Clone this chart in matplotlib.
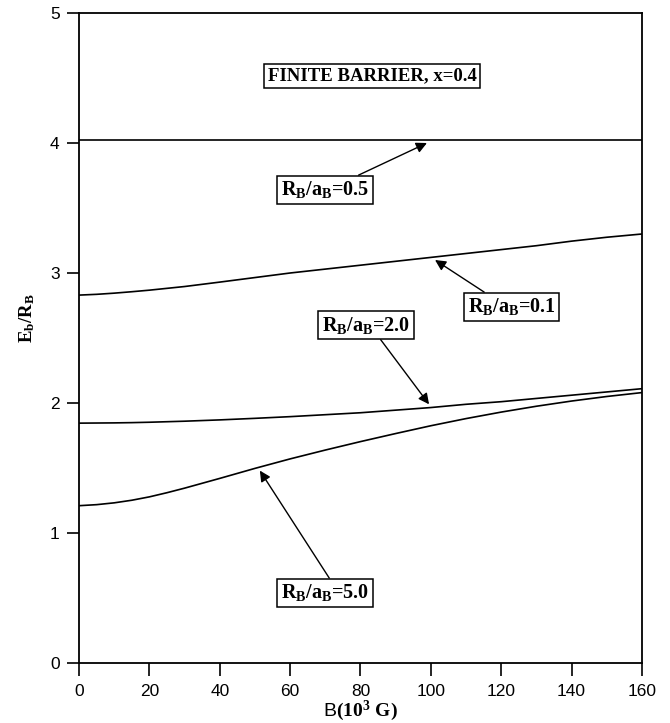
import matplotlib
matplotlib.use("Agg")
import matplotlib.pyplot as plt

# magnetic field B (10^3 G)
field = [0, 5, 10, 15, 20, 25, 30, 40, 50, 60, 70, 80, 90, 100, 110, 120, 130, 140, 150, 160]

# binding energy E_b / R_B for each R_B/a_B
eb_05 = [4.02] * len(field)
eb_01 = [2.83, 2.836, 2.845, 2.856, 2.868, 2.882, 2.896, 2.93, 2.965, 3.0, 3.03, 3.06,
         3.09, 3.12, 3.15, 3.18, 3.21, 3.245, 3.275, 3.30]
eb_20 = [1.845, 1.846, 1.847, 1.849, 1.852, 1.856, 1.86, 1.87, 1.882, 1.895, 1.91, 1.925,
         1.945, 1.965, 1.99, 2.01, 2.035, 2.06, 2.085, 2.11]
eb_50 = [1.21, 1.218, 1.232, 1.252, 1.278, 1.31, 1.345, 1.42, 1.497, 1.57, 1.638, 1.703,
         1.765, 1.825, 1.88, 1.93, 1.975, 2.015, 2.05, 2.08]

curves = [eb_05, eb_01, eb_20, eb_50]

labels = ["0.5", "0.1", "2.0", "5.0"]
x_ticks = [0, 20, 40, 60, 80, 100, 120, 140, 160]
y_ticks = [0, 1, 2, 3, 4, 5]

# label box centres, arrow heads and where the arrow leaves the box
label_xy = [(69.9, 3.64), (123.0, 2.74), (81.6, 2.60), (69.9, 0.54)]
head_xy = [(98.9, 4.0), (101.2, 3.10), (99.5, 1.99), (51.4, 1.48)]
relpos = [(0.78, 1.0), (0.26, 1.0), (0.63, 0.0), (0.58, 1.0)]

plt.rcParams['mathtext.fontset'] = 'custom'
plt.rcParams['mathtext.rm'] = 'Liberation Serif:bold'
plt.rcParams['mathtext.it'] = 'Liberation Serif:bold'
plt.rcParams['mathtext.bf'] = 'Liberation Serif:bold'
plt.rcParams['font.family'] = ['Liberation Sans', 'DejaVu Sans']

fig = plt.figure(figsize=(6.7, 7.23), dpi=100)
ax = fig.add_axes([0.118, 0.083, 0.840, 0.899])

for ys in curves:
    ax.plot(field, ys, color='black', lw=1.2)

ax.set_xlim(0, 160)
ax.set_ylim(0, 5)
ax.set_xticks(x_ticks)
ax.set_yticks(y_ticks)
ax.tick_params(direction='out', length=9, width=1.2, labelsize=12.5, colors='black')
ax.tick_params(axis='x', pad=6)
ax.tick_params(axis='y', pad=5)
for sp in ax.spines.values():
    sp.set_linewidth(1.3)

ax.set_xlabel(r'B$(10^3\ \mathrm{G})$', fontsize=14, labelpad=0)
ax.set_ylabel(r'$\mathrm{E_b/R_B}$', fontsize=13.5)
ax.yaxis.set_label_coords(-0.075, 0.53)

box = dict(boxstyle='square,pad=0.18', fc='white', ec='black', lw=1.1)

ax.text(83.3, 4.515, 'FINITE BARRIER, x=0.4', ha='center', va='center',
        fontsize=13.5, fontweight='bold', family='Liberation Serif', bbox=box)

for lab, txy, hxy, rp in zip(labels, label_xy, head_xy, relpos):
    ax.annotate(r'R$_\mathrm{B}$/a$_\mathrm{B}$=' + lab, xy=hxy, xytext=txy,
                ha='center', va='center', fontsize=14.5, fontweight='bold',
                family='Liberation Serif', bbox=box,
                arrowprops=dict(arrowstyle='-|>', color='black', lw=1.0,
                                mutation_scale=16, relpos=rp,
                                shrinkA=0, shrinkB=0))

fig.savefig('out.png', dpi=100)
